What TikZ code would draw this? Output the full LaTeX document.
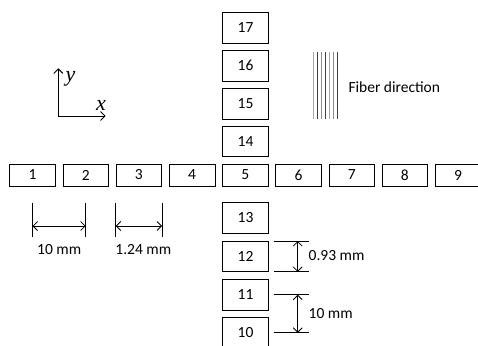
\documentclass[tikz,border=0pt]{standalone}
\usepackage{fontspec}
\setmainfont{Carlito}
\newfontfamily\axisfont{Liberation Serif}
\usetikzlibrary{arrows.meta,calc}
\begin{document}
\begin{tikzpicture}[x=1pt,y=-1pt,
  txt/.style={font=\fontsize{15.5}{18}\selectfont},
  hbox/.style={draw, line width=0.8pt, minimum width=45.6pt, minimum height=22pt, inner sep=0pt, txt},
  vbox/.style={hbox, minimum height=30.5pt},
  tick/.style={line width=0.8pt},
  dimarrow/.style={line width=0.8pt, {Straight Barb[length=4.5pt,width=9pt]}-{Straight Barb[length=4.5pt,width=9pt]}},
  axarrow/.style={line width=0.9pt, {Straight Barb[length=4.5pt,width=9pt]}-{Straight Barb[length=4.5pt,width=9pt]}},
  lbl/.style={txt, inner sep=0pt},
  axlbl/.style={font=\axisfont\itshape\fontsize{22}{26}\selectfont, inner sep=0pt, anchor=base},
  fiber/.style={line width=0.9pt}]
\useasboundingbox (0,0) rectangle (478,345);
\clip (0,0) rectangle (478,345);

% horizontal row
\foreach \i in {1,...,9} {
  \node[hbox] (b\i) at ({32.5+53.2*(\i-1)},175) {\i};
}
% vertical column
\node[vbox] (b17) at (245.5,28) {17};
\node[vbox] (b16) at (245.5,65.8) {16};
\node[vbox] (b15) at (245.5,103.7) {15};
\node[vbox] (b14) at (245.5,141.3) {14};
\node[vbox] (b13) at (245.5,218) {13};
\node[vbox] (b12) at (245.5,256.2) {12};
\node[vbox] (b11) at (245.5,294.7) {11};
\node[vbox] (b10) at (245.5,332.8) {10};

% axes
\coordinate (o) at (58.3,116);
\coordinate (ytip) at (58.3,68.3);
\coordinate (xtip) at (105.7,116);
\draw[axarrow] (ytip) -- (o) -- (xtip);
\node[axlbl] (ylab) at (70.5,81) {y};
\node[axlbl] (xlab) at (101,110.5) {x};

% fiber direction
\foreach \xx/\cc in {313.7/gray!70, 317.7/black!75, 321.7/gray!90, 325.7/black!75, 329.7/gray!70, 333.7/gray!90, 337.5/black!75} {
  \draw[fiber, draw=\cc] (\xx,51.7) -- (\xx,119);
}
\node[lbl, anchor=west] (fib) at (348.3,86.7) {Fiber direction};

% dimension 10 mm (horizontal)
\draw[tick] ($(b1.center)+(0,27.7)$) -- ($(b1.center)+(0,62.3)$);
\draw[tick] ($(b2.center)+(0,27.7)$) -- ($(b2.center)+(0,62.3)$);
\draw[dimarrow] ($(b1.center)+(0,51)$) -- ($(b2.center)+(0,51)$);
\node[lbl] (l10h) at (59.2,250) {10 mm};

% dimension 1.24 mm
\draw[tick] ($(b3.west)+(0,27.7)$) -- ($(b3.west)+(0,62.3)$);
\draw[tick] ($(b3.east)+(0,27.7)$) -- ($(b3.east)+(0,62.3)$);
\draw[dimarrow] ($(b3.west)+(0,51)$) -- ($(b3.east)+(0,51)$);
\node[lbl] (l124) at (143.3,250) {1.24 mm};

% dimension 0.93 mm (vertical)
\draw[tick] ($(b12.north east)+(5,0.5)$) -- ($(b12.north east)+(40.7,0.5)$);
\draw[tick] ($(b12.south east)+(5,0)$) -- ($(b12.south east)+(40.7,0)$);
\draw[dimarrow] ($(b12.north east)+(29,0.5)$) -- ($(b12.south east)+(29,0)$);
\node[lbl, anchor=west] (l093) at (308.5,256) {0.93 mm};

% dimension 10 mm (vertical)
\draw[tick] ($(b11.east)+(5,0)$) -- ($(b11.east)+(40.7,0)$);
\draw[tick] ($(b10.east)+(5,0)$) -- ($(b10.east)+(40.7,0)$);
\draw[dimarrow] ($(b11.east)+(29,0)$) -- ($(b10.east)+(29,0)$);
\node[lbl, anchor=west] (l10v) at (308.5,313.3) {10 mm};
\end{tikzpicture}
\end{document}
